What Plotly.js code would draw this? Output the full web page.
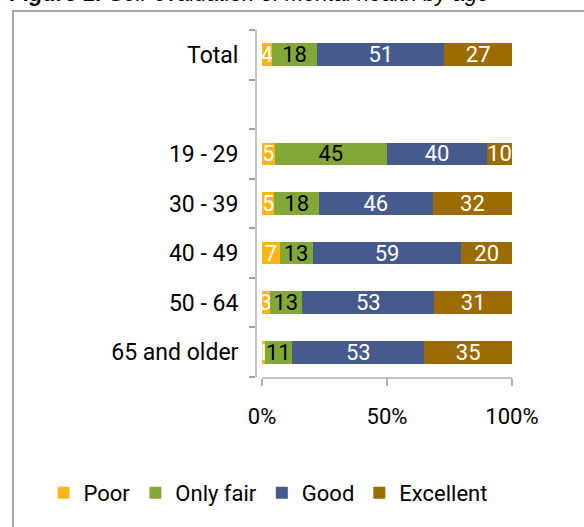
<!DOCTYPE html>
<html>
<head>
<meta charset="utf-8">
<script src="https://cdn.plot.ly/plotly-3.0.1.min.js"></script>
<style>
  html, body { margin: 0; padding: 0; background: #fff; overflow: hidden; }
  #frame { position: absolute; left: 12px; top: 10px; width: 700px; height: 700px;
           border-left: 2px solid #a6a6a6; border-top: 2px solid #a6a6a6; }
  #chart { position: absolute; left: 0; top: 0; width: 584px; height: 527px; }
</style>
</head>
<body>
<div id="frame"></div>
<div id="chart"></div>
<script>
// Categories from bottom to top (blank slot separates Total from age groups)
const categories = ["65 and older", "50 - 64", "40 - 49", "30 - 39", "19 - 29", " ", "Total"];
const poor      = [1, 3, 7, 5, 5, null, 4];
const onlyFair  = [11, 13, 13, 18, 45, null, 18];
const good      = [53, 53, 59, 46, 40, null, 51];
const excellent = [35, 31, 20, 32, 10, null, 27];
const seriesNames = ["Poor", "Only fair", "Good", "Excellent"];
const xTickVals = [0, 50, 100];
const xTickText = ["0%", "50%", "100%"];

const FONT = "Roboto, 'Liberation Sans', sans-serif";
const colors = ["#FDB515", "#84A838", "#465A8C", "#9C6C00"];
const textColors = ["#ffffff", "#000000", "#ffffff", "#ffffff"];
const values = [poor, onlyFair, good, excellent];

const traces = values.map((v, i) => ({
  type: "bar",
  orientation: "h",
  name: seriesNames[i],
  y: categories,
  x: v,
  text: v.map(d => d == null ? "" : String(d)),
  texttemplate: "%{text}",
  textposition: "inside",
  insidetextanchor: "middle",
  constraintext: "none",
  textangle: 0,
  cliponaxis: false,
  textfont: { family: FONT, size: 22, color: textColors[i] },
  marker: { color: colors[i] },
  hoverinfo: "skip"
}));

const layout = {
  width: 584, height: 527,
  margin: { l: 256, r: 72, t: 30, b: 150 },
  paper_bgcolor: "rgba(0,0,0,0)",
  plot_bgcolor: "rgba(0,0,0,0)",
  barmode: "stack",
  barnorm: "percent",
  bargap: 0.54,
  showlegend: true,
  font: { family: FONT, size: 22, color: "#000" },
  xaxis: {
    domain: [6 / 256, 1],
    range: [0, 100.01],
    tickvals: xTickVals,
    ticktext: xTickText,
    showgrid: false, zeroline: false,
    showline: true, linecolor: "#c4c4c4", linewidth: 2,
    ticks: "outside", ticklen: 7, tickcolor: "#b0b0b0", tickwidth: 2,
    ticklabelstandoff: 12,
    tickfont: { family: FONT, size: 22, color: "#000" },
    fixedrange: true
  },
  yaxis: {
    type: "category",
    categoryorder: "array",
    categoryarray: categories,
    range: [-0.5, 6.5],
    anchor: "free", position: 0,
    showgrid: false, zeroline: false,
    showline: true, linecolor: "#c4c4c4", linewidth: 2,
    tickson: "boundaries",
    ticks: "outside", ticklen: 6, tickcolor: "#a0a0a0", tickwidth: 2,
    ticklabelstandoff: 12,
    tickfont: { family: FONT, size: 23, color: "#000" },
    fixedrange: true
  },
  legend: {
    orientation: "h",
    x: -0.83, xanchor: "left",
    y: -0.334, yanchor: "middle",
    font: { family: FONT, size: 22, color: "#000" },
    traceorder: "normal",
    bgcolor: "rgba(0,0,0,0)"
  },
  annotations: [{
    xref: "paper", yref: "paper",
    x: -0.969, xanchor: "left",
    y: 1.104, yanchor: "middle",
    showarrow: false,
    text: "<b>Figure 1:</b> Self-evaluation of mental health by age",
    font: { family: "'Liberation Sans', Arial, sans-serif", size: 22, style: "italic", color: "#000" }
  }]
};

Plotly.newPlot("chart", traces, layout, { displayModeBar: false, staticPlot: true });
</script>
</body>
</html>
